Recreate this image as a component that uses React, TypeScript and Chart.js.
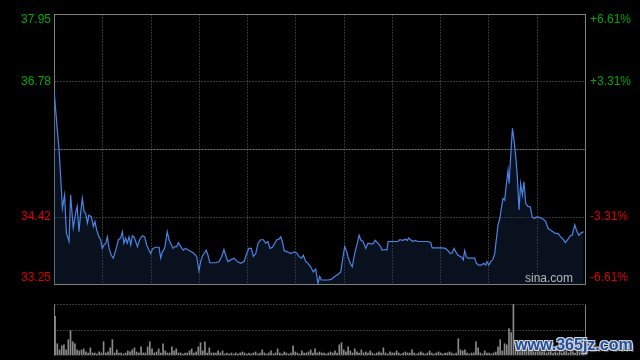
import React, { useEffect, useRef } from "react";
import { Chart, registerables } from "chart.js";

Chart.register(...registerables);

// ---- data ----
const minutes: number[] = [
  0, 1.5, 2.3, 3.0, 3.8, 4.8, 5.6, 6.8, 7.5, 8.7,
  9.8, 10.5, 11.3, 12.1, 12.8, 13.6, 14.3, 15.1, 15.8, 16.9,
  17.8, 18.5, 19.3, 20.3, 21.1, 21.8, 22.6, 23.4, 24.1, 24.9,
  25.9, 26.8, 27.9, 29.1, 30.1, 30.9, 31.6, 32.4, 33.1, 33.9,
  34.7, 35.4, 36.2, 36.9, 37.7, 38.7, 39.9, 41.0, 41.9, 42.9,
  43.7, 44.7, 46.0, 47.5, 48.2, 49.0, 50.0, 51.2, 52.0, 52.7,
  53.8, 54.7, 55.5, 56.2, 57.3, 58.4, 59.5, 60.7, 62.1, 63.3,
  64.5, 65.5, 66.3, 67.0, 67.8, 68.8, 69.6, 70.4, 71.6, 73.1,
  74.6, 75.8, 76.8, 77.6, 78.6, 79.9, 81.4, 82.9, 84.4, 85.9,
  87.1, 88.1, 89.2, 90.1, 91.2, 92.2, 93.4, 94.6, 95.7, 96.7,
  97.6, 98.7, 99.8, 100.7, 101.7, 102.5, 103.4, 104.0, 105.5, 107.0,
  108.5, 109.7, 110.7, 111.8, 112.7, 113.8, 114.8, 116.0, 117.2, 118.3,
  119.3, 120.1, 120.8, 122.4, 123.8, 125.3, 126.9, 128.4, 129.6, 130.6,
  131.4, 132.1, 132.9, 133.9, 134.8, 135.9, 137.1, 137.9, 138.6, 139.7,
  140.9, 141.9, 143.2, 144.2, 145.2, 146.4, 147.5, 148.3, 149.5, 150.5,
  151.0, 152.5, 154.0, 155.5, 156.3, 157.7, 158.8, 159.7, 160.3, 161.2,
  162.3, 163.3, 164.5, 166.0, 167.6, 169.0, 170.3, 170.9, 172.3, 173.9,
  175.4, 176.9, 178.1, 179.1, 179.9, 180.8, 181.6, 182.6, 184.1, 185.0,
  185.6, 186.4, 187.1, 188.6, 190.2, 190.9, 192.0, 193.1, 194.2, 195.1,
  195.7, 196.5, 197.4, 198.4, 199.2, 199.9, 200.7, 201.5, 202.2, 202.9,
  203.7, 204.4, 205.2, 205.7, 206.4, 207.2, 207.9, 208.7, 209.4, 210.2,
  210.9, 211.7, 212.4, 213.2, 214.2, 215.3, 216.1, 217.0, 218.0, 219.5,
  221.0, 222.2, 223.3, 224.3, 225.5, 226.6, 227.8, 229.0, 230.1, 231.1,
  232.3, 233.4, 234.2, 235.4, 236.1, 237.2, 238.3, 239.4,
];

const prices: number[] = [
  36.63, 35.93, 35.58, 35.12, 34.57, 34.80, 34.14, 33.99, 34.80, 34.23,
  34.49, 34.60, 34.16, 34.51, 34.74, 34.51, 34.48, 34.31, 34.45, 34.42,
  34.25, 34.34, 34.19, 34.07, 34.02, 33.87, 33.93, 33.96, 34.07, 33.87,
  33.75, 33.70, 33.84, 34.02, 34.05, 34.16, 33.96, 34.05, 33.96, 34.07,
  33.93, 34.09, 34.07, 33.99, 33.90, 34.02, 34.09, 34.07, 33.93, 33.84,
  33.78, 33.87, 33.89, 33.89, 33.70, 33.81, 33.87, 34.16, 34.02, 33.96,
  33.87, 33.90, 33.90, 33.97, 33.90, 33.84, 33.87, 33.84, 33.81, 33.78,
  33.73, 33.48, 33.64, 33.73, 33.78, 33.84, 33.75, 33.62, 33.62, 33.62,
  33.64, 33.73, 33.85, 33.75, 33.64, 33.67, 33.70, 33.64, 33.61, 33.64,
  33.78, 33.87, 33.87, 33.73, 33.78, 33.96, 34.02, 34.02, 33.96, 33.99,
  33.87, 33.89, 33.96, 34.02, 34.03, 34.07, 33.96, 33.83, 33.81, 33.78,
  33.81, 33.79, 33.73, 33.70, 33.75, 33.64, 33.61, 33.55, 33.46, 33.51,
  33.26, 33.38, 33.32, 33.32, 33.32, 33.33, 33.38, 33.42, 33.46, 33.72,
  33.90, 33.84, 33.72, 33.61, 33.55, 33.78, 33.96, 34.10, 34.02, 33.99,
  33.87, 33.96, 33.95, 33.95, 34.01, 33.96, 33.91, 33.84, 33.85, 33.84,
  33.99, 33.99, 33.99, 33.99, 34.02, 34.01, 34.03, 34.01, 34.05, 34.02,
  33.99, 34.01, 33.99, 33.99, 33.99, 33.99, 33.97, 33.88, 33.88, 33.88,
  33.88, 33.87, 33.83, 33.78, 33.79, 33.87, 33.81, 33.75, 33.72, 33.67,
  33.83, 33.72, 33.70, 33.70, 33.70, 33.61, 33.58, 33.58, 33.61, 33.58,
  33.64, 33.58, 33.64, 33.68, 33.78, 34.02, 34.28, 34.39, 34.57, 34.74,
  34.71, 34.97, 35.23, 35.00, 35.47, 35.96, 35.76, 35.47, 35.12, 34.54,
  35.00, 34.80, 35.03, 34.65, 34.60, 34.59, 34.42, 34.39, 34.42, 34.41,
  34.38, 34.34, 34.22, 34.19, 34.16, 34.13, 34.13, 34.07, 34.03, 33.97,
  34.03, 34.09, 34.10, 34.28, 34.19, 34.10, 34.14, 34.16,
];

// one bar per minute, 0..240
const volumes: number[] = [
  38, 11, 5, 9, 10, 5, 15, 24, 13, 11,
  5, 4, 5, 6, 3, 2, 7, 2, 2, 1,
  3, 2, 13, 2, 3, 7, 15, 2, 5, 2,
  2, 1, 2, 4, 3, 5, 7, 3, 2, 8,
  2, 2, 8, 13, 6, 2, 3, 6, 2, 11,
  4, 2, 2, 8, 4, 6, 2, 2, 1, 2,
  2, 4, 6, 2, 3, 8, 12, 4, 13, 2,
  7, 2, 2, 2, 4, 2, 4, 1, 2, 1,
  2, 1, 2, 1, 2, 3, 2, 1, 2, 1,
  2, 3, 1, 2, 5, 2, 1, 2, 4, 1,
  2, 6, 2, 1, 3, 2, 1, 2, 9, 3,
  2, 1, 4, 2, 2, 3, 5, 2, 6, 2,
  3, 2, 2, 1, 2, 3, 2, 4, 2, 10,
  12, 5, 3, 8, 4, 2, 6, 3, 2, 5,
  2, 3, 2, 4, 2, 1, 2, 3, 2, 7,
  2, 1, 3, 2, 2, 4, 2, 1, 2, 3,
  2, 2, 5, 2, 1, 2, 3, 2, 1, 2,
  4, 2, 1, 2, 3, 2, 1, 2, 2, 3,
  2, 1, 2, 16, 5, 4, 5, 2, 1, 2,
  2, 13, 7, 2, 1, 4, 2, 2, 1, 2,
  3, 8, 15, 4, 11, 10, 26, 22, 50, 12,
  9, 14, 6, 8, 5, 10, 4, 6, 3, 5,
  4, 3, 6, 2, 3, 4, 2, 3, 2, 5,
  2, 3, 4, 2, 6, 3, 2, 4, 3, 2,
  3,
];

const priceMin = 33.25;
const priceMax = 37.95;
const prevClose = 35.6;
const priceTicks: number[] = [37.95, 36.78, 34.42, 33.25];
const priceTickLabels: string[] = ["37.95", "36.78", "34.42", "33.25"];
const pctTickLabels: string[] = ["+6.61%", "+3.31%", "-3.31%", "-6.61%"];
const gridMinutes: number[] = [1, 2, 3, 4, 5, 6, 7, 8, 9, 10].map((k) => (240 * k) / 11);
const volumeMax = 50;

// ---- styles ----
const GRID = "#6a6a6a";
const BOX = "#808080";
const UP = "rgb(0,168,0)";
const DOWN = "rgb(222,0,0)";
const FONT = '12px Arial, "Liberation Sans", sans-serif';

function hline(ctx: CanvasRenderingContext2D, x1: number, x2: number, y: number) {
  ctx.beginPath();
  ctx.moveTo(x1, y);
  ctx.lineTo(x2, y);
  ctx.stroke();
}
function vline(ctx: CanvasRenderingContext2D, x: number, y1: number, y2: number) {
  ctx.beginPath();
  ctx.moveTo(x, y1);
  ctx.lineTo(x, y2);
  ctx.stroke();
}
const crisp = (v: number) => Math.round(v) + 0.5;

const mainDeco = {
  id: "mainDeco",
  beforeDatasetsDraw(chart: any) {
    const { ctx, chartArea, scales } = chart;
    const { left, right, top, bottom } = chartArea;
    const L = crisp(left), R = crisp(right), T = crisp(top), B = crisp(bottom);
    ctx.save();
    ctx.lineWidth = 1;
    ctx.strokeStyle = GRID;
    ctx.setLineDash([1, 2]);
    gridMinutes.forEach((m) => vline(ctx, crisp(scales.x.getPixelForValue(m)), T, B));
    priceTicks.forEach((p) => {
      if (p === priceMin || p === priceMax) return;
      hline(ctx, L, R, crisp(scales.y.getPixelForValue(p)));
    });
    ctx.strokeStyle = "#7a7a7a";
    ctx.setLineDash([2, 1]);
    hline(ctx, L, R, crisp(scales.y.getPixelForValue(prevClose)));
    ctx.setLineDash([]);
    ctx.strokeStyle = BOX;
    ctx.strokeRect(L, T, R - L, B - T);
    ctx.restore();
  },
  afterDraw(chart: any) {
    const { ctx, chartArea, scales } = chart;
    const { left, right, top, bottom } = chartArea;
    ctx.save();
    ctx.font = FONT;
    ctx.textBaseline = "middle";
    priceTicks.forEach((p, i) => {
      let y = scales.y.getPixelForValue(p);
      y = Math.max(top + 6, Math.min(bottom - 6, y));
      const col = p > prevClose ? UP : DOWN;
      ctx.fillStyle = col;
      ctx.textAlign = "right";
      ctx.fillText(priceTickLabels[i], left - 3, y);
      ctx.textAlign = "left";
      ctx.fillText(pctTickLabels[i], right + 5, y);
    });
    ctx.fillStyle = "#b8b8b8";
    ctx.textAlign = "right";
    ctx.textBaseline = "alphabetic";
    ctx.fillText("sina.com", right - 12, bottom - 2);
    ctx.restore();
  },
};

const volDeco = {
  id: "volDeco",
  beforeDatasetsDraw(chart: any) {
    const { ctx, chartArea, scales } = chart;
    const { left, right, top, bottom } = chartArea;
    const L = crisp(left), R = crisp(right), T = crisp(top), B = crisp(bottom);
    ctx.save();
    ctx.lineWidth = 1;
    ctx.strokeStyle = GRID;
    ctx.setLineDash([1, 2]);
    hline(ctx, L, R, T);
    hline(ctx, L, R, crisp(scales.y.getPixelForValue(volumeMax / 2)));
    hline(ctx, L, R, B);
    ctx.setLineDash([]);
    ctx.strokeStyle = BOX;
    vline(ctx, L, T, B);
    vline(ctx, R, T, B);
    ctx.restore();
  },
};

export default function App() {
  const mainRef = useRef<HTMLCanvasElement>(null);
  const volRef = useRef<HTMLCanvasElement>(null);

  useEffect(() => {
    const main = new Chart(mainRef.current as HTMLCanvasElement, {
      type: "line",
      data: {
        datasets: [
          {
            data: minutes.map((m, i) => ({ x: m, y: prices[i] })),
            borderColor: "#4a84e4",
            borderWidth: 1.2,
            pointRadius: 0,
            tension: 0,
            fill: "start",
            backgroundColor: "rgba(32,52,92,0.32)",
          },
        ],
      },
      options: {
        animation: false,
        responsive: false,
        devicePixelRatio: 1,
        events: [],
        layout: { padding: { left: 54, right: 55, top: 14, bottom: 6 } },
        scales: {
          x: { type: "linear", min: 0, max: 240, display: false },
          y: { type: "linear", min: priceMin, max: priceMax, display: false },
        },
        plugins: { legend: { display: false }, tooltip: { enabled: false } },
      },
      plugins: [mainDeco],
    } as any);

    const vol = new Chart(volRef.current as HTMLCanvasElement, {
      type: "bar",
      data: {
        datasets: [
          {
            data: volumes.map((v, i) => ({ x: i, y: v })),
            backgroundColor: "#8a8a8a",
            barThickness: 1,
            borderWidth: 0,
          },
        ],
      },
      options: {
        animation: false,
        responsive: false,
        devicePixelRatio: 1,
        events: [],
        layout: { padding: { left: 54, right: 55, top: 14, bottom: 5 } },
        scales: {
          x: { type: "linear", min: -0.5, max: 240.5, offset: false, display: false },
          y: { type: "linear", min: 0, max: volumeMax, display: false },
        },
        plugins: { legend: { display: false }, tooltip: { enabled: false } },
      },
      plugins: [volDeco],
    } as any);

    return () => {
      main.destroy();
      vol.destroy();
    };
  }, []);

  return (
    <div
      style={{
        position: "fixed",
        left: 0,
        top: 0,
        width: 640,
        height: 360,
        background: "#000",
        overflow: "hidden",
      }}
    >
      <canvas ref={mainRef} width={640} height={290} style={{ position: "absolute", left: 0, top: 0 }} />
      <canvas ref={volRef} width={640} height={70} style={{ position: "absolute", left: 0, top: 290 }} />
      <div
        style={{
          position: "absolute",
          left: 515,
          top: 337,
          fontFamily: 'Arial, "Liberation Sans", sans-serif',
          fontWeight: "bold",
          fontSize: 16,
          lineHeight: "16px",
          color: "#1f4f9f",
          whiteSpace: "nowrap",
          textShadow:
            "1px 1px 0 #d8d8d8, -1px -1px 0 #d8d8d8, 1px -1px 0 #d8d8d8, -1px 1px 0 #d8d8d8, 2px 2px 1px #555",
        }}
      >
        www.365jz.com
      </div>
    </div>
  );
}
